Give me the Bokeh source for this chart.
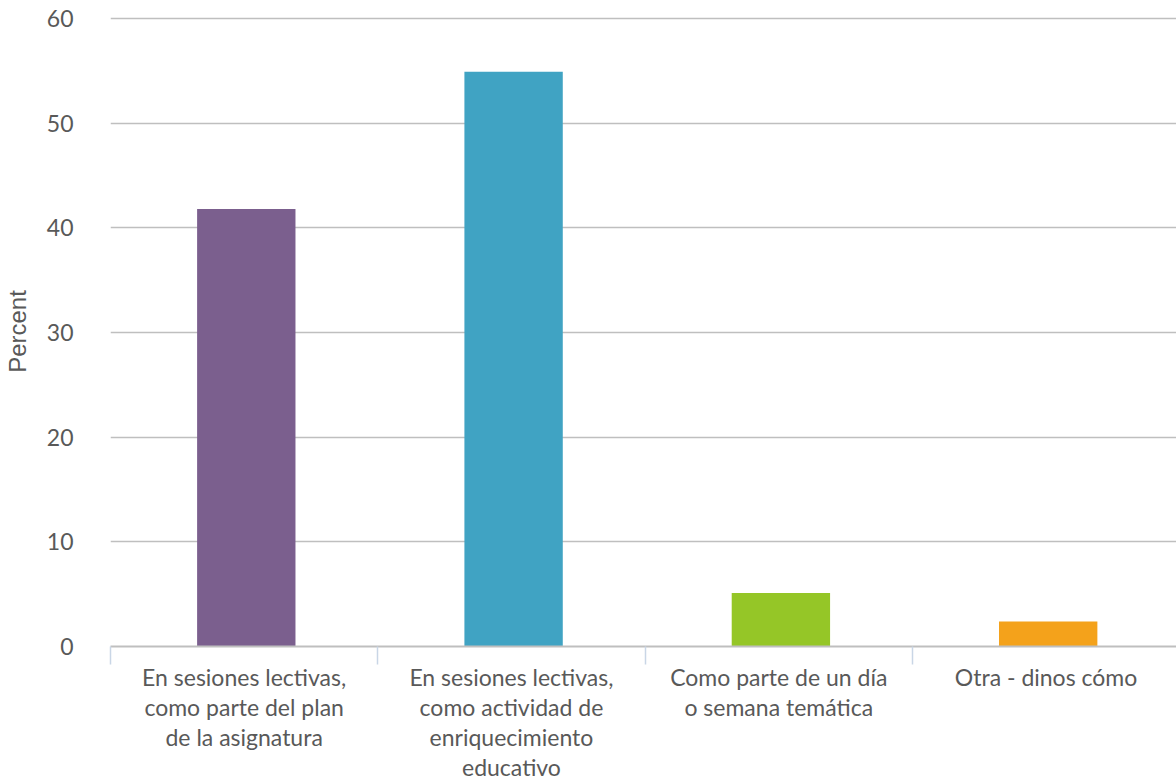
from bokeh.plotting import figure
from bokeh.models import FixedTicker, Range1d
from bokeh.transform import dodge
from bokeh.embed import file_html
from bokeh.resources import INLINE

categories = [
    "En sesiones lectivas,\ncomo parte del plan\nde la asignatura",
    "En sesiones lectivas,\ncomo actividad de\nenriquecimiento\neducativo",
    "Como parte de un día\no semana temática",
    "Otra - dinos cómo",
]
values = [41.8, 54.9, 5.1, 2.4]
colors = ["#7B5F8E", "#40A3C3", "#95C627", "#F4A21B"]
y_ticks = [0, 10, 20, 30, 40, 50, 60]

centers = [i + 0.5 for i in range(len(categories))]
bounds = list(range(len(categories) + 1))

p = figure(frame_width=1066, frame_height=630, output_backend="svg", toolbar_location=None,
           x_range=Range1d(0, 3.988), y_range=Range1d(0, 60.19),
           min_border_left=110, min_border_right=0, min_border_top=16, min_border_bottom=100)
p.outline_line_color = None
p.background_fill_color = "white"
p.border_fill_color = "white"

src = dict(x=centers, top=values, color=colors)
p.vbar(x=dodge("x", 0.008), top="top", width=0.368, color="color", line_color=None, source=src)

# x axis
xa = p.xaxis[0]
xa.ticker = FixedTicker(ticks=centers, minor_ticks=bounds)
xa.major_label_overrides = {c: lab for c, lab in zip(centers, categories)}
xa.major_tick_out = 0
xa.major_tick_in = 0
xa.minor_tick_out = 18
xa.minor_tick_in = 0
xa.minor_tick_line_color = "#C9D6E6"
xa.minor_tick_line_width = 1.5
xa.axis_line_color = "#BFBFBF"
xa.axis_line_width = 2
xa.major_label_text_font = "Lato"
xa.major_label_text_font_size = "23px"
xa.major_label_text_color = "#595959"
xa.major_label_text_line_height = 1.08
xa.major_label_standoff = -2

# y axis
ya = p.yaxis[0]
ya.ticker = FixedTicker(ticks=y_ticks)
ya.axis_line_color = None
ya.major_tick_line_color = None
ya.minor_tick_line_color = None
ya.major_label_text_font = "Lato"
ya.major_label_text_font_size = "23px"
ya.major_label_text_color = "#595959"
ya.major_label_standoff = 31
ya.axis_label = "Percent"
ya.axis_label_text_font = "Liberation Sans"
ya.axis_label_text_font_style = "normal"
ya.axis_label_text_font_size = "24px"
ya.axis_label_text_color = "#595959"
ya.axis_label_standoff = 13

p.xgrid.grid_line_color = None
p.ygrid.grid_line_color = "#BFBFBF"
p.ygrid.grid_line_width = 1.5
p.ygrid.ticker = FixedTicker(ticks=y_ticks[1:])

open("out.html", "w").write(file_html(p, INLINE))
